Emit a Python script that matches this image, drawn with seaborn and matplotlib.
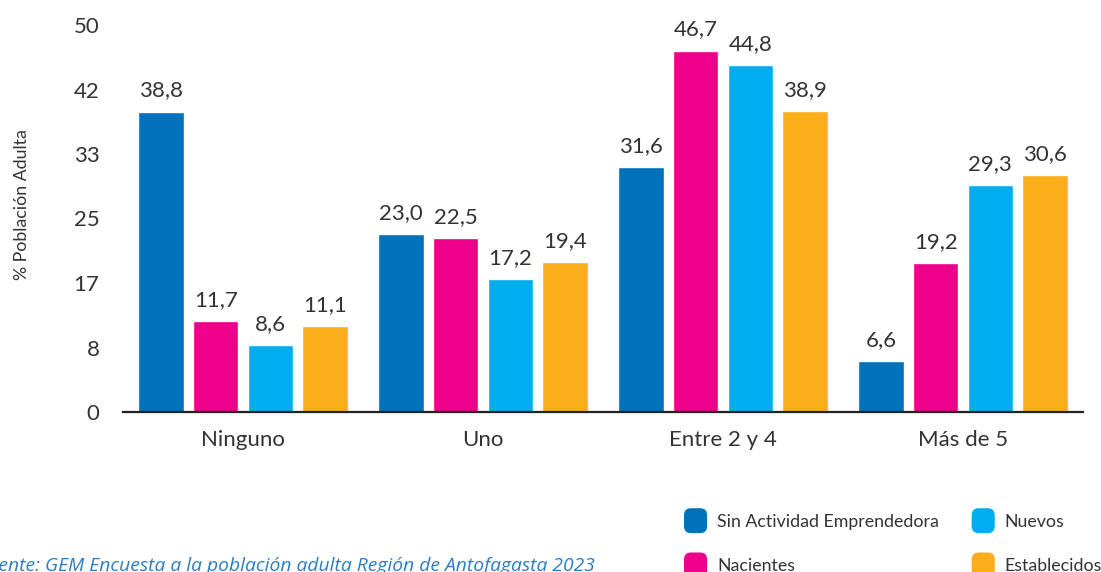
import numpy as np
import pandas as pd
import seaborn as sns
import matplotlib
matplotlib.use("Agg")
import matplotlib.pyplot as plt
from matplotlib.patches import FancyBboxPatch, Patch
from matplotlib.legend_handler import HandlerPatch

# ---- data ----
categories = ["Ninguno", "Uno", "Entre 2 y 4", "Más de 5"]
series_names = ["Sin Actividad Emprendedora", "Nacientes", "Nuevos", "Establecidos"]
sin_actividad = [38.8, 23.0, 31.6, 6.6]
nacientes = [11.7, 22.5, 46.7, 19.2]
nuevos = [8.6, 17.2, 44.8, 29.3]
establecidos = [11.1, 19.4, 38.9, 30.6]
y_tick_labels = ["0", "8", "17", "25", "33", "42", "50"]
y_label = "% Población Adulta"
source_text = "Fuente: GEM Encuesta a la población adulta Región de Antofagasta 2023"

colors = ["#0072BC", "#EC008C", "#00AEEF", "#FAAF1A"]

rows = []
for name, vals in zip(series_names, [sin_actividad, nacientes, nuevos, establecidos]):
    for c, v in zip(categories, vals):
        rows.append({"cat": c, "serie": name, "val": v})
df = pd.DataFrame(rows)

sns.set_theme(style="white")
plt.rcParams["font.family"] = ["Lato", "DejaVu Sans"]
text_color = "#333333"

fig = plt.figure(figsize=(11.01, 5.72), dpi=100)
ax = fig.add_axes([123 / 1101, 1 - 412 / 572, 960 / 1101, 387 / 572])

sns.barplot(data=df, x="cat", y="val", hue="serie", order=categories,
            hue_order=series_names, palette=colors, width=0.91, gap=0.17,
            saturation=1, ax=ax, legend=False)

for cont in ax.containers:
    labs = [f"{b.get_height():.1f}".replace(".", ",") for b in cont]
    ax.bar_label(cont, labels=labs, padding=8, fontsize=16, color=text_color)

ax.set_xlim(-0.5, 3.5)
ax.set_ylim(0, 50)
ax.set_yticks(np.linspace(0, 50, 7))
ax.set_yticklabels(y_tick_labels)
ax.set_xlabel("")
ax.set_ylabel("")
ax.tick_params(axis="y", length=0, pad=17, labelsize=16, labelcolor=text_color)
ax.tick_params(axis="x", length=0, pad=13, labelsize=16, labelcolor=text_color)
for s in ["left", "right", "top"]:
    ax.spines[s].set_visible(False)
ax.spines["bottom"].set_color("#222222")
ax.spines["bottom"].set_linewidth(1.6)
ax.grid(False)

fig.text(22 / 1101, 1 - 205 / 572, y_label, rotation=90, ha="center", va="center",
         fontsize=12.8, color=text_color)

fig.text(595 / 1101, 1 - 566 / 572, source_text, ha="right", va="center",
         fontsize=13.9, style="italic", color="#2A7DC4",
         family=["Open Sans", "DejaVu Sans"])


def make_round(legend, orig_handle, xdescent, ydescent, width, height, fontsize):
    return FancyBboxPatch((-xdescent, -ydescent - 2), width, height + 4,
                          boxstyle="round,pad=0,rounding_size=5")


handles = [Patch(facecolor=c, edgecolor="none") for c in colors]
fig.legend(handles, series_names, ncol=2, loc="upper left",
           bbox_to_anchor=(684 / 1101, 1 - 511 / 572), frameon=False,
           fontsize=12.8, handlelength=1.3, handleheight=1.3, handletextpad=0.55,
           columnspacing=1.85, labelspacing=1.4, borderpad=0, borderaxespad=0,
           labelcolor=text_color,
           handler_map={Patch: HandlerPatch(patch_func=make_round)})

fig.savefig("out.png", dpi=100)
